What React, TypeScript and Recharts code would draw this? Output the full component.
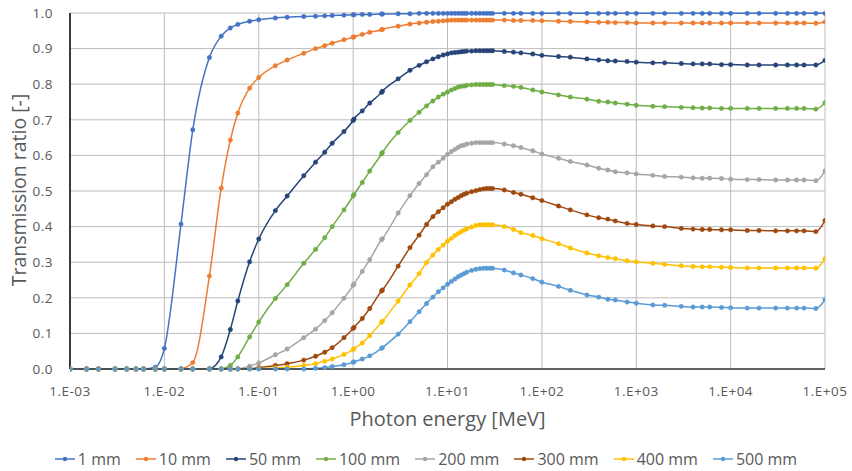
import { CartesianGrid, Legend, Line, LineChart, XAxis, YAxis } from "recharts";

const FONT = "'Open Sans', 'Noto Sans', sans-serif";
const TEXT = "#595959";

// photon energies [MeV] (XCOM standard grid)
const energies = [
  0.001, 0.0015, 0.002, 0.003, 0.004, 0.005, 0.006, 0.008, 0.01, 0.015,
  0.02, 0.03, 0.04, 0.05, 0.06, 0.08, 0.1, 0.15, 0.2, 0.3,
  0.4, 0.5, 0.6, 0.8, 1, 1.022, 1.25, 1.5, 2, 2.044,
  3, 4, 5, 6, 7, 8, 9, 10, 11, 12,
  13, 14, 15, 16, 18, 20, 22, 24, 26, 28,
  30, 40, 50, 60, 80, 100, 150, 200, 300, 400,
  500, 600, 800, 1000, 1500, 2000, 3000, 4000, 5000, 6000,
  8000, 10000, 15000, 20000, 30000, 40000, 50000, 60000, 80000, 100000,
];

const mm1 = [
  0, 0, 0, 0, 0, 0, 0, 0.005, 0.058, 0.407,
  0.672, 0.875, 0.935, 0.958, 0.968, 0.977, 0.981, 0.986, 0.988, 0.99,
  0.991, 0.992, 0.993, 0.994, 0.995, 0.995, 0.996, 0.996, 0.997, 0.997,
  0.998, 0.998, 0.999, 0.999, 0.999, 0.999, 0.999, 0.999, 0.999, 0.999,
  0.999, 0.999, 0.999, 0.999, 0.999, 0.999, 0.999, 0.999, 0.999, 0.999,
  0.999, 0.999, 0.999, 0.999, 0.999, 0.999, 0.999, 0.999, 0.999, 0.999,
  0.999, 0.999, 0.999, 0.999, 0.999, 0.999, 0.999, 0.999, 0.999, 0.999,
  0.999, 0.999, 0.999, 0.999, 0.999, 0.999, 0.999, 0.999, 0.999, 0.999,
];

const mm10 = [
  0, 0, 0, 0, 0, 0, 0, 0, 0, 0.001,
  0.018, 0.261, 0.508, 0.643, 0.719, 0.789, 0.819, 0.852, 0.868, 0.887,
  0.9, 0.908, 0.915, 0.925, 0.932, 0.933, 0.94, 0.946, 0.953, 0.954,
  0.963, 0.969, 0.972, 0.974, 0.976, 0.977, 0.978, 0.979, 0.98, 0.98,
  0.98, 0.98, 0.98, 0.98, 0.98, 0.98, 0.98, 0.98, 0.98, 0.98,
  0.98, 0.98, 0.979, 0.979, 0.979, 0.978, 0.977, 0.976, 0.975, 0.974,
  0.974, 0.973, 0.973, 0.972, 0.972, 0.972, 0.972, 0.972, 0.972, 0.972,
  0.972, 0.972, 0.972, 0.972, 0.972, 0.972, 0.972, 0.972, 0.971, 0.975,
];

const mm50 = [
  0, 0, 0, 0, 0, 0, 0, 0, 0, 0,
  0, 0.001, 0.034, 0.111, 0.191, 0.301, 0.365, 0.445, 0.486, 0.543,
  0.581, 0.609, 0.634, 0.667, 0.698, 0.702, 0.725, 0.747, 0.777, 0.78,
  0.815, 0.839, 0.853, 0.863, 0.871, 0.877, 0.882, 0.885, 0.888, 0.889,
  0.89, 0.891, 0.892, 0.893, 0.893, 0.894, 0.894, 0.894, 0.894, 0.894,
  0.894, 0.892, 0.89, 0.888, 0.885, 0.881, 0.878, 0.876, 0.871, 0.868,
  0.866, 0.865, 0.864, 0.862, 0.86, 0.86, 0.858, 0.857, 0.857, 0.857,
  0.855, 0.855, 0.854, 0.854, 0.854, 0.854, 0.854, 0.854, 0.854, 0.867,
];

const mm100 = [
  0, 0, 0, 0, 0, 0, 0, 0, 0, 0,
  0, 0, 0.001, 0.01, 0.034, 0.09, 0.132, 0.198, 0.237, 0.297,
  0.336, 0.369, 0.4, 0.447, 0.486, 0.49, 0.524, 0.556, 0.604, 0.608,
  0.664, 0.698, 0.721, 0.739, 0.753, 0.764, 0.772, 0.778, 0.784, 0.788,
  0.792, 0.794, 0.795, 0.797, 0.798, 0.799, 0.799, 0.799, 0.799, 0.799,
  0.799, 0.796, 0.794, 0.791, 0.784, 0.778, 0.77, 0.764, 0.758, 0.752,
  0.75, 0.747, 0.744, 0.741, 0.738, 0.737, 0.735, 0.734, 0.733, 0.733,
  0.732, 0.732, 0.732, 0.732, 0.732, 0.732, 0.732, 0.732, 0.73, 0.748,
];

const mm200 = [
  0, 0, 0, 0, 0, 0, 0, 0, 0, 0,
  0, 0, 0, 0, 0.001, 0.008, 0.017, 0.04, 0.056, 0.088,
  0.112, 0.136, 0.158, 0.199, 0.235, 0.239, 0.274, 0.307, 0.363, 0.366,
  0.438, 0.487, 0.521, 0.546, 0.568, 0.581, 0.592, 0.603, 0.611, 0.617,
  0.623, 0.627, 0.629, 0.632, 0.634, 0.636, 0.636, 0.636, 0.636, 0.636,
  0.636, 0.632, 0.627, 0.622, 0.613, 0.604, 0.592, 0.583, 0.573, 0.564,
  0.559, 0.554, 0.551, 0.548, 0.544, 0.541, 0.539, 0.537, 0.536, 0.536,
  0.535, 0.533, 0.532, 0.532, 0.531, 0.531, 0.531, 0.531, 0.529, 0.556,
];

const mm300 = [
  0, 0, 0, 0, 0, 0, 0, 0, 0, 0,
  0, 0, 0, 0, 0, 0.001, 0.004, 0.01, 0.015, 0.025,
  0.036, 0.047, 0.06, 0.088, 0.114, 0.117, 0.142, 0.17, 0.219, 0.222,
  0.289, 0.341, 0.376, 0.406, 0.428, 0.442, 0.453, 0.463, 0.47, 0.477,
  0.482, 0.487, 0.491, 0.494, 0.498, 0.501, 0.504, 0.506, 0.507, 0.507,
  0.507, 0.503, 0.496, 0.491, 0.481, 0.473, 0.458, 0.447, 0.433, 0.425,
  0.421, 0.416, 0.409, 0.406, 0.402, 0.4, 0.395, 0.393, 0.392, 0.392,
  0.391, 0.391, 0.389, 0.389, 0.388, 0.388, 0.388, 0.388, 0.386, 0.417,
];

const mm400 = [
  0, 0, 0, 0, 0, 0, 0, 0, 0, 0,
  0, 0, 0, 0, 0, 0, 0.001, 0.003, 0.005, 0.01,
  0.015, 0.022, 0.028, 0.041, 0.055, 0.057, 0.073, 0.094, 0.131, 0.134,
  0.191, 0.236, 0.268, 0.299, 0.32, 0.336, 0.348, 0.359, 0.367, 0.375,
  0.381, 0.386, 0.39, 0.394, 0.399, 0.403, 0.405, 0.405, 0.405, 0.405,
  0.405, 0.4, 0.392, 0.383, 0.375, 0.366, 0.352, 0.34, 0.326, 0.318,
  0.313, 0.31, 0.304, 0.301, 0.297, 0.294, 0.29, 0.288, 0.287, 0.287,
  0.286, 0.285, 0.284, 0.284, 0.284, 0.284, 0.284, 0.284, 0.283, 0.31,
];

const mm500 = [
  0, 0, 0, 0, 0, 0, 0, 0, 0, 0,
  0, 0, 0, 0, 0, 0, 0, 0, 0, 0,
  0.002, 0.004, 0.007, 0.012, 0.019, 0.02, 0.028, 0.037, 0.058, 0.06,
  0.098, 0.133, 0.161, 0.184, 0.202, 0.217, 0.228, 0.238, 0.246, 0.253,
  0.259, 0.264, 0.268, 0.272, 0.277, 0.28, 0.282, 0.283, 0.283, 0.283,
  0.283, 0.278, 0.27, 0.264, 0.254, 0.244, 0.232, 0.221, 0.208, 0.202,
  0.196, 0.194, 0.188, 0.185, 0.18, 0.179, 0.176, 0.174, 0.174, 0.174,
  0.173, 0.172, 0.171, 0.171, 0.171, 0.171, 0.171, 0.171, 0.17, 0.195,
];

const seriesNames = ["1 mm", "10 mm", "50 mm", "100 mm", "200 mm", "300 mm", "400 mm", "500 mm"];
const seriesValues = [mm1, mm10, mm50, mm100, mm200, mm300, mm400, mm500];
const colors = ["#4472C4", "#ED7D31", "#264478", "#70AD47", "#A5A5A5", "#9E480E", "#FFC000", "#5B9BD5"];

const xTicks = [1e-3, 1e-2, 1e-1, 1, 1e1, 1e2, 1e3, 1e4, 1e5];
const xTickLabels = ["1.E-03", "1.E-02", "1.E-01", "1.E+00", "1.E+01", "1.E+02", "1.E+03", "1.E+04", "1.E+05"];
const yTicks = [0, 0.1, 0.2, 0.3, 0.4, 0.5, 0.6, 0.7, 0.8, 0.9, 1];

const data = energies.map((e, i) => {
  const row: Record<string, number> = { e };
  seriesNames.forEach((n, k) => {
    row[n] = seriesValues[k][i];
  });
  return row;
});

const tickStyle = { fontSize: 13.5, fill: TEXT, fontFamily: FONT, letterSpacing: 0.5 };

// legend kept in series order (recharts reorders the payload)
function LegendRow() {
  return (
    <div
      style={{
        display: "flex",
        justifyContent: "center",
        gap: 15,
        fontFamily: FONT,
        fontSize: 16,
        color: TEXT,
        lineHeight: "20px",
      }}
    >
      {seriesNames.map((n, k) => (
        <span key={n} style={{ display: "inline-flex", alignItems: "center" }}>
          <svg width={20} height={10} style={{ marginRight: 3 }}>
            <line x1={0} y1={5} x2={20} y2={5} stroke={colors[k]} strokeWidth={1.5} />
            <circle cx={10} cy={5} r={2.2} fill={colors[k]} />
          </svg>
          {n}
        </span>
      ))}
    </div>
  );
}

export default function App() {
  return (
    <div style={{ position: "absolute", left: 0, top: 0, width: 852, height: 471, background: "#fff" }}>
      <LineChart width={852} height={471} data={data} margin={{ top: 13, right: 27, bottom: 2, left: 0 }}>
        <CartesianGrid stroke="#bcbcbc" strokeWidth={1} />
        <XAxis
          dataKey="e"
          type="number"
          scale="log"
          domain={[1e-3, 1e5]}
          ticks={xTicks}
          allowDataOverflow
          height={100}
          tickLine={false}
          tickMargin={11}
          axisLine={{ stroke: "#3a3a3a", strokeWidth: 1.5 }}
          tick={tickStyle}
          tickFormatter={(v: number) => xTickLabels[xTicks.indexOf(v)] ?? ""}
        />
        <YAxis
          type="number"
          domain={[0, 1]}
          ticks={yTicks}
          width={70}
          tickLine={false}
          tickMargin={11}
          axisLine={{ stroke: "#3a3a3a", strokeWidth: 2 }}
          tick={tickStyle}
          tickFormatter={(v: number) => v.toFixed(1)}
        />
        <Legend
          layout="horizontal"
          verticalAlign="middle"
          align="center"
          content={<LegendRow />}
          wrapperStyle={{ top: 449, left: 0, width: 852 }}
        />
        {seriesNames.map((n, k) => (
          <Line
            key={n}
            dataKey={n}
            name={n}
            type="monotone"
            stroke={colors[k]}
            strokeWidth={1.5}
            dot={{ r: 2.2, fill: colors[k], stroke: colors[k], strokeWidth: 0.5 }}
            activeDot={false}
            isAnimationActive={false}
          />
        ))}
        <text
          x={447.5}
          y={419}
          dy="0.35em"
          textAnchor="middle"
          fontFamily={FONT}
          fontSize={20}
          fill={TEXT}
        >
          Photon energy [MeV]
        </text>
        <text
          x={19}
          y={190}
          dy="0.35em"
          textAnchor="middle"
          transform="rotate(-90, 19, 190)"
          fontFamily={FONT}
          fontSize={19.5}
          fill={TEXT}
        >
          Transmission ratio [-]
        </text>
      </LineChart>
    </div>
  );
}
